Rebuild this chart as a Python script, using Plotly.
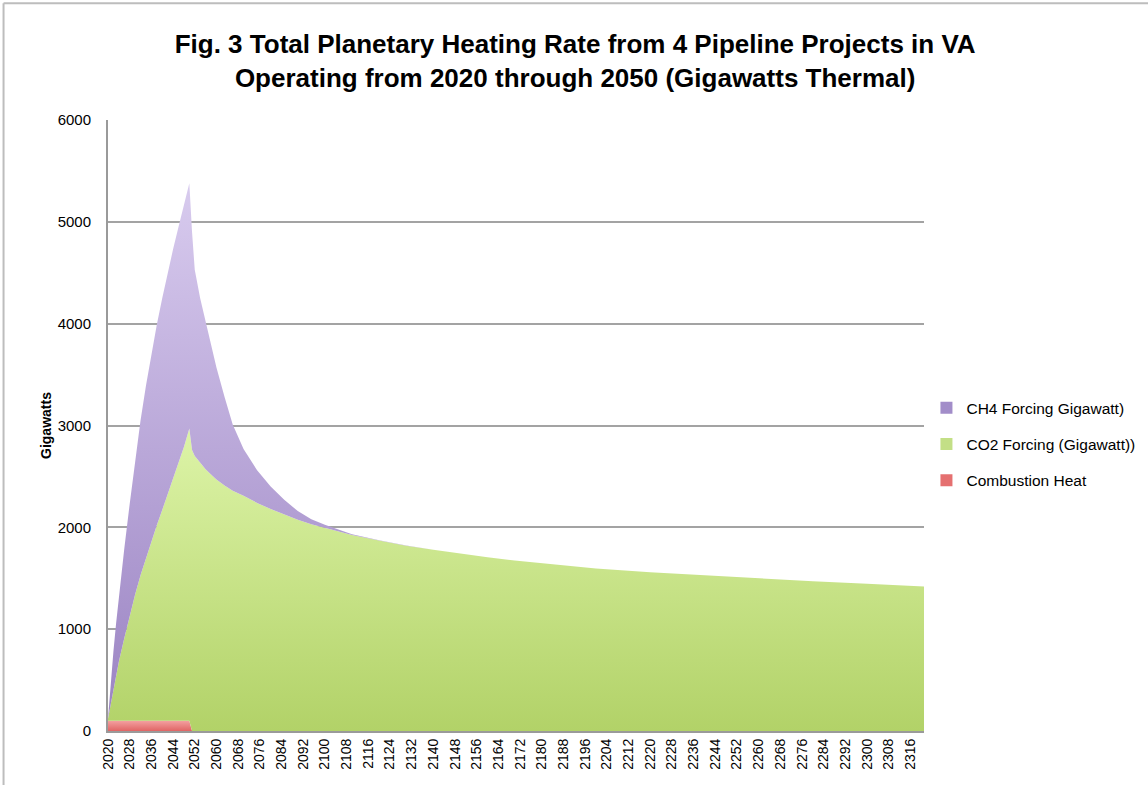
import plotly.graph_objects as go

years = [2020, 2021, 2022, 2023, 2024, 2026, 2028, 2030, 2032, 2034, 2036, 2038, 2040,
         2042, 2044, 2046, 2048, 2050, 2051, 2052, 2054, 2056, 2058, 2060, 2063, 2066,
         2070, 2075, 2080, 2085, 2090, 2095, 2100, 2105, 2110, 2120, 2130, 2140, 2150,
         2160, 2170, 2180, 2190, 2200, 2220, 2240, 2260, 2280, 2300, 2321]

combustion = [100, 100, 100, 100, 100, 100, 100, 100, 100, 100, 100, 100, 100,
              100, 100, 100, 100, 100, 0, 0, 0, 0, 0, 0, 0, 0,
              0, 0, 0, 0, 0, 0, 0, 0, 0, 0, 0, 0, 0,
              0, 0, 0, 0, 0, 0, 0, 0, 0, 0, 0]

co2 = [20, 160, 300, 440, 580, 810, 1030, 1240, 1430, 1600, 1760, 1920, 2070,
       2220, 2370, 2530, 2690, 2870, 2760, 2700, 2630, 2570, 2520, 2470, 2410, 2360,
       2310, 2240, 2180, 2125, 2075, 2030, 1995, 1960, 1925, 1870, 1820, 1780, 1740,
       1705, 1675, 1648, 1620, 1595, 1560, 1528, 1500, 1470, 1445, 1420]

ch4 = [0, 210, 380, 520, 640, 880, 1100, 1320, 1520, 1690, 1840, 1970, 2080,
       2180, 2260, 2320, 2380, 2410, 2140, 1830, 1620, 1460, 1270, 1100, 870, 650,
       460, 320, 220, 145, 85, 50, 30, 15, 6, 3, 2, 1, 1,
       0, 0, 0, 0, 0, 0, 0, 0, 0, 0, 0]

tick_years = list(range(2020, 2317, 8))

font_fam = "'Liberation Sans', Arial, sans-serif"

purple = "#a996cf"
green = "#c4e083"
red = "#e97777"

fig = go.Figure()
fig.add_trace(go.Scatter(
    x=years, y=combustion, name="Combustion Heat", stackgroup="one",
    mode="lines", line=dict(width=0, color=red), fillcolor=red, showlegend=False,
    fillgradient=dict(type="vertical", colorscale=[[0, "#e06565"], [1, "#f3a0a0"]]),
))
fig.add_trace(go.Scatter(
    x=years, y=co2, name="CO2 Forcing (Gigawatt))", stackgroup="one",
    mode="lines", line=dict(width=0, color=green), fillcolor=green, showlegend=False,
    fillgradient=dict(type="vertical", colorscale=[[0, "#b2d268"], [1, "#ddf4a8"]]),
))
fig.add_trace(go.Scatter(
    x=years, y=ch4, name="CH4 Forcing Gigawatt)", stackgroup="one",
    mode="lines", line=dict(width=0, color=purple), fillcolor=purple, showlegend=False,
    fillgradient=dict(type="vertical", colorscale=[[0, "#9b84c3"], [1, "#d8cbee"]]),
))

# legend entries with square swatches
for name, col, rank, grp in [("CH4 Forcing Gigawatt)", "#a28dc9", 1, "g1"),
                             ("CO2 Forcing (Gigawatt))", "#c3df86", 2, "g2"),
                             ("Combustion Heat", "#e57070", 3, "g3")]:
    fig.add_trace(go.Scatter(
        x=[None], y=[None], mode="markers", name=name, legendrank=rank,
        legendgroup=grp,
        marker=dict(symbol="square", size=9, color=col), showlegend=True,
    ))

fig.update_layout(
    width=1148, height=785,
    paper_bgcolor="white", plot_bgcolor="white",
    margin=dict(l=108, r=224, t=120, b=54, autoexpand=False),
    title=dict(
        text="<b>Fig. 3 Total Planetary Heating Rate from 4 Pipeline Projects in VA<br>Operating from 2020 through 2050 (Gigawatts Thermal)</b>",
        x=0.501, xanchor="center", xref="container", y=0.932, yanchor="middle",
        font=dict(family=font_fam, size=26, color="#000"),
    ),
    font=dict(family=font_fam, color="#000"),
    xaxis=dict(
        range=[2020, 2321], tickmode="array", tickvals=tick_years,
        ticktext=[str(t) for t in tick_years], tickangle=-90,
        tickfont=dict(size=14, family=font_fam), showgrid=False,
        showline=True, linecolor="#9a9a9a", linewidth=2, zeroline=False,
        ticks="", fixedrange=True,
    ),
    yaxis=dict(
        range=[0, 6000], tickvals=[0, 1000, 2000, 3000, 4000, 5000, 6000],
        tickfont=dict(size=15, family=font_fam),
        showgrid=True, gridcolor="#a3a3a3", gridwidth=1.5,
        showline=True, linecolor="#9a9a9a", linewidth=2, zeroline=False,
        ticks="", ticklabelstandoff=12, fixedrange=True,
        title=dict(text="<b>Gigawatts</b>", font=dict(size=14, family=font_fam), standoff=3),
    ),
    legend=dict(
        x=1.003, xanchor="left", y=0.556, yanchor="top",
        traceorder="grouped", tracegroupgap=13,
        font=dict(size=15.5, family=font_fam), itemwidth=30,
        bgcolor="rgba(0,0,0,0)", itemsizing="constant",
    ),
    showlegend=True,
)

fig.add_shape(type="line", xref="paper", yref="paper",
              x0=-0.128, x1=1.3, y0=1.191, y1=1.191,
              line=dict(color="#bdbdbd", width=2))
fig.add_shape(type="line", xref="paper", yref="paper",
              x0=-0.128, x1=-0.128, y0=-0.1, y1=1.191,
              line=dict(color="#bdbdbd", width=2))

fig.write_html("out.html", config={"displayModeBar": False},
               post_script="document.body.style.margin='0px';")
